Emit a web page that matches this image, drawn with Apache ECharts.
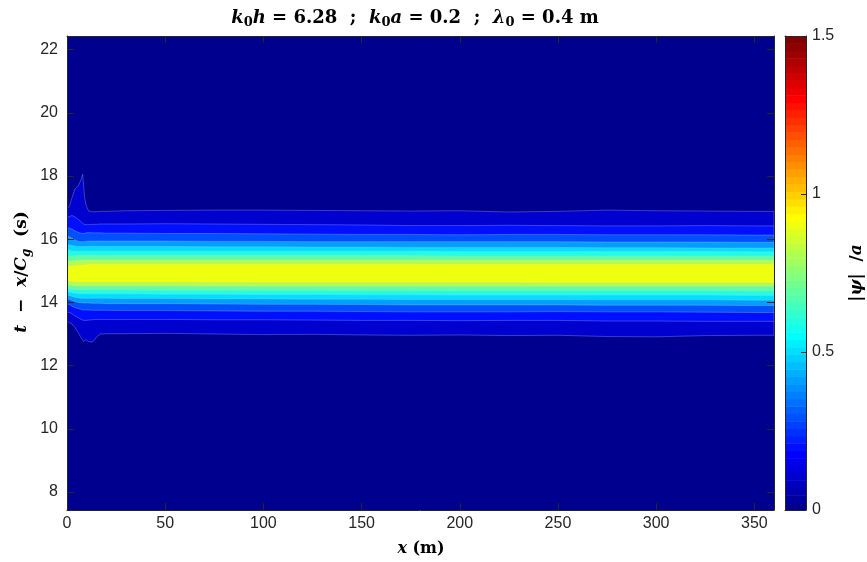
<!DOCTYPE html>
<html><head><meta charset="utf-8">
<script src="https://cdn.jsdelivr.net/npm/echarts@6/dist/echarts.min.js"></script>
<style>html,body{margin:0;padding:0;background:#fff}#c{width:867px;height:562px}</style>
</head><body><div id="c"></div>
<script>
// x stations (m) at which contour boundaries were read
const xStations = [0, 1.2, 2.5, 4.2, 5.9, 7.0, 8.0, 8.5, 9.0, 9.7, 11, 13, 15, 17, 20, 30, 50, 75, 100, 125, 150, 175, 200, 225, 250, 275, 300, 325, 350, 360];
// contour levels of |psi|/a
const levels = [0.1, 0.2, 0.3, 0.4, 0.5, 0.6, 0.7, 0.8, 0.9];
// upper / lower boundaries (t - x/Cg, s) of each level
const upper01 = [16.98,17.03,17.30,17.61,17.69,17.87,18.05,17.65,17.30,17.08,16.89,16.87,16.87,16.88,16.88,16.90,16.91,16.92,16.92,16.91,16.90,16.89,16.90,16.86,16.88,16.92,16.90,16.89,16.88,16.88];
const lower01 = [13.40,13.36,13.32,13.20,13.02,12.90,12.80,12.76,12.80,12.82,12.76,12.74,12.90,13.00,13.01,13.01,13.02,13.00,12.98,12.99,12.97,12.96,12.97,12.95,12.96,12.92,12.91,12.95,12.96,12.96];
const upper02 = [16.70,16.71,16.75,16.70,16.62,16.56,16.50,16.48,16.47,16.46,16.46,16.47,16.47,16.48,16.48,16.48,16.49,16.48,16.47,16.46,16.45,16.43,16.43,16.44,16.43,16.42,16.42,16.43,16.42,16.42];
const lower02 = [13.70,13.68,13.64,13.57,13.51,13.47,13.44,13.43,13.43,13.43,13.44,13.45,13.46,13.46,13.46,13.46,13.46,13.45,13.45,13.44,13.43,13.43,13.42,13.43,13.43,13.41,13.41,13.40,13.40,13.40];
const upper03 = [16.37,16.35,16.32,16.26,16.21,16.19,16.18,16.18,16.19,16.20,16.21,16.20,16.20,16.20,16.19,16.19,16.18,16.18,16.17,16.16,16.15,16.15,16.14,16.15,16.15,16.14,16.14,16.14,16.13,16.13];
const lower03 = [13.95,13.93,13.88,13.83,13.80,13.78,13.76,13.76,13.76,13.76,13.76,13.75,13.75,13.75,13.75,13.74,13.74,13.73,13.72,13.72,13.71,13.70,13.70,13.70,13.71,13.70,13.70,13.69,13.68,13.68];
const upper04 = [16.10,16.08,16.03,15.97,15.93,15.92,15.92,15.92,15.93,15.93,15.94,15.94,15.94,15.94,15.94,15.94,15.94,15.93,15.93,15.92,15.92,15.92,15.92,15.92,15.92,15.91,15.91,15.91,15.90,15.90];
const lower04 = [14.12,14.10,14.06,14.02,14.00,13.99,13.98,13.98,13.98,13.98,13.98,13.97,13.97,13.97,13.96,13.96,13.96,13.95,13.94,13.94,13.93,13.92,13.92,13.92,13.92,13.91,13.91,13.91,13.90,13.90];
const upper05 = [15.84,15.82,15.80,15.78,15.77,15.77,15.77,15.77,15.77,15.77,15.77,15.77,15.77,15.77,15.77,15.77,15.77,15.76,15.76,15.75,15.75,15.74,15.74,15.74,15.74,15.73,15.73,15.72,15.72,15.72];
const lower05 = [14.24,14.22,14.19,14.16,14.14,14.13,14.13,14.13,14.13,14.13,14.13,14.13,14.13,14.13,14.13,14.12,14.12,14.11,14.11,14.10,14.10,14.09,14.09,14.09,14.09,14.08,14.08,14.08,14.07,14.07];
const upper06 = [15.66,15.65,15.63,15.62,15.62,15.62,15.62,15.62,15.62,15.62,15.62,15.62,15.62,15.62,15.62,15.62,15.62,15.62,15.62,15.62,15.62,15.62,15.61,15.61,15.61,15.61,15.61,15.61,15.60,15.60];
const lower06 = [14.34,14.33,14.31,14.29,14.28,14.28,14.27,14.27,14.27,14.27,14.27,14.27,14.27,14.27,14.27,14.27,14.26,14.26,14.25,14.25,14.24,14.24,14.23,14.23,14.23,14.23,14.23,14.23,14.22,14.22];
const upper07 = [15.47,15.47,15.47,15.48,15.48,15.48,15.48,15.48,15.48,15.48,15.48,15.48,15.48,15.48,15.48,15.48,15.48,15.48,15.48,15.48,15.48,15.48,15.47,15.47,15.47,15.47,15.47,15.47,15.47,15.47];
const lower07 = [14.44,14.43,14.41,14.40,14.39,14.39,14.39,14.39,14.39,14.39,14.39,14.39,14.39,14.39,14.39,14.39,14.38,14.38,14.38,14.38,14.37,14.37,14.37,14.37,14.37,14.37,14.37,14.37,14.36,14.36];
const upper08 = [15.30,15.31,15.32,15.33,15.34,15.34,15.35,15.35,15.35,15.35,15.35,15.35,15.35,15.35,15.35,15.35,15.35,15.35,15.35,15.35,15.35,15.35,15.35,15.35,15.35,15.35,15.35,15.35,15.35,15.35];
const lower08 = [14.55,14.54,14.53,14.52,14.51,14.51,14.51,14.51,14.51,14.51,14.51,14.51,14.51,14.51,14.51,14.51,14.51,14.50,14.50,14.50,14.50,14.50,14.50,14.50,14.50,14.50,14.50,14.50,14.50,14.50];
const upper09 = [15.15,15.16,15.17,15.18,15.19,15.20,15.21,15.21,15.21,15.21,15.22,15.22,15.22,15.22,15.22,15.22,15.22,15.22,15.22,15.22,15.22,15.22,15.22,15.22,15.22,15.22,15.22,15.22,15.22,15.22];
const lower09 = [14.67,14.66,14.65,14.64,14.64,14.63,14.63,14.63,14.63,14.63,14.63,14.63,14.63,14.63,14.63,14.63,14.63,14.63,14.62,14.62,14.62,14.62,14.62,14.62,14.61,14.61,14.61,14.61,14.61,14.61];
// tick labels
const xTicks = [0, 50, 100, 150, 200, 250, 300, 350];
const yTicks = [8, 10, 12, 14, 16, 18, 20, 22];
const cbTicks = [0, 0.5, 1, 1.5];

const upperBounds = [upper01, upper02, upper03, upper04, upper05, upper06, upper07, upper08, upper09];
const lowerBounds = [lower01, lower02, lower03, lower04, lower05, lower06, lower07, lower08, lower09];

const CMIN = 0, CMAX = 1.5, NC = 64;
function u(j) { if (j < 1 || j > 47) return 0; if (j <= 16) return j / 16; if (j <= 31) return 1; return (48 - j) / 16; }
function jetRow(k) { // 1-based row of MATLAB jet(64)
  const c = [u(k - 24), u(k - 8), u(k + 8)].map(v => Math.round(v * 255));
  return 'rgb(' + c.join(',') + ')';
}
function colorOf(v) {
  let k = Math.floor((v - CMIN) / (CMAX - CMIN) * NC) + 1;
  k = Math.max(1, Math.min(NC, k));
  return jetRow(k);
}
const cbIdx = Array.from({length: NC}, (_, i) => [i]);

const ink = '#262626';
const tickFont = {fontFamily: 'Liberation Sans, Arial, Helvetica, sans-serif', fontSize: 16, color: ink};
const serif = '"DejaVu Serif", serif';
function richSet(fs) {
  const sub = Math.round(fs * 0.7);
  const pad = Math.round(fs * 0.5);
  return {
    i: {fontFamily: serif, fontStyle: 'italic', fontWeight: 'bold', fontSize: fs, color: '#000'},
    b: {fontFamily: serif, fontWeight: 'bold', fontSize: fs, color: '#000'},
    s: {fontFamily: serif, fontWeight: 'bold', fontSize: sub, color: '#000', padding: [pad, 0, 0, 0]},
    si: {fontFamily: serif, fontStyle: 'italic', fontWeight: 'bold', fontSize: sub, color: '#000', padding: [pad, 0, 0, 0]}
  };
}

const chart = echarts.init(document.getElementById('c'), null, {renderer: 'canvas'});
function axisCommon(extra) {
  return Object.assign({
    type: 'value', z: 10,
    axisLine: {show: true, onZero: false, lineStyle: {color: ink, width: 1}},
    splitLine: {show: false},
  }, extra);
}
chart.setOption({
  animation: false,
  backgroundColor: '#fff',
  grid: [
    {left: 67, right: 93, top: 36, bottom: 52, show: true, backgroundColor: colorOf(0), borderWidth: 0},
    {left: 785, width: 21, top: 36, bottom: 52, show: false}
  ],
  xAxis: [
    axisCommon({gridIndex: 0, position: 'bottom', min: 0, max: 360,
      axisTick: {show: true, inside: true, length: 7, customValues: xTicks, lineStyle: {color: ink}},
      axisLabel: Object.assign({show: true, margin: 6, customValues: xTicks}, tickFont)}),
    axisCommon({gridIndex: 0, position: 'top', min: 0, max: 360,
      axisTick: {show: true, inside: true, length: 7, customValues: xTicks, lineStyle: {color: ink}},
      axisLabel: {show: false}}),
    axisCommon({gridIndex: 1, position: 'bottom', min: 0, max: 1, axisTick: {show: false}, axisLabel: {show: false}}),
    axisCommon({gridIndex: 1, position: 'top', min: 0, max: 1, axisTick: {show: false}, axisLabel: {show: false}})
  ],
  yAxis: [
    axisCommon({gridIndex: 0, position: 'left', min: 7.43, max: 22.43,
      axisTick: {show: true, inside: true, length: 7, customValues: yTicks, lineStyle: {color: ink}},
      axisLabel: Object.assign({show: true, margin: 9, customValues: yTicks}, tickFont)}),
    axisCommon({gridIndex: 0, position: 'right', min: 7.43, max: 22.43,
      axisTick: {show: true, inside: true, length: 7, customValues: yTicks, lineStyle: {color: ink}},
      axisLabel: {show: false}}),
    axisCommon({gridIndex: 1, position: 'right', min: 0, max: 1.5,
      axisTick: {show: true, inside: true, length: 5, customValues: cbTicks, lineStyle: {color: ink}},
      axisLabel: Object.assign({show: true, margin: 6, customValues: cbTicks}, tickFont)}),
    axisCommon({gridIndex: 1, position: 'left', min: 0, max: 1.5, axisTick: {show: false}, axisLabel: {show: false}})
  ],
  series: [
    {
      type: 'custom', xAxisIndex: 0, yAxisIndex: 0, clip: true, z: 2,
      data: levels.map((v, i) => [i]),
      encode: {x: 0},
      renderItem: function (params, api) {
        const i = api.value(0);
        const U = upperBounds[i], L = lowerBounds[i];
        const pts = [];
        for (let j = 0; j < xStations.length; j++) pts.push(api.coord([xStations[j], U[j]]));
        for (let j = xStations.length - 1; j >= 0; j--) pts.push(api.coord([xStations[j], L[j]]));
        return {type: 'polygon', shape: {points: pts},
          style: {fill: colorOf(levels[i]), stroke: 'rgba(185,195,255,0.45)', lineWidth: 0.7}};
      }
    },
    {
      type: 'custom', xAxisIndex: 2, yAxisIndex: 2, clip: true, z: 2,
      data: cbIdx,
      encode: {y: 0},
      renderItem: function (params, api) {
        const i = api.value(0);
        const step = (CMAX - CMIN) / NC;
        const p0 = api.coord([0, CMIN + i * step]);
        const p1 = api.coord([1, CMIN + (i + 1) * step]);
        return {type: 'rect', shape: {x: p0[0], y: p1[1], width: p1[0] - p0[0], height: p0[1] - p1[1] + 0.5},
          style: {fill: jetRow(i + 1)}};
      }
    }
  ],
  graphic: [
    {type: 'text', x: 415, y: 18, style: {
      text: '{i|k}{s|0}{i|h}{b| = 6.28  ;  }{i|k}{s|0}{i|a}{b| = 0.2  ;  }{i|λ}{s|0}{b| = 0.4 m}',
      rich: richSet(18), align: 'center', verticalAlign: 'middle'}},
    {type: 'text', x: 421, y: 549, style: {
      text: '{i|x}{b| (m)}', rich: richSet(16), align: 'center', verticalAlign: 'middle'}},
    {type: 'text', x: 22, y: 272, rotation: Math.PI / 2, style: {
      text: '{i|t}{b|  −  }{i|x}{b|/}{i|C}{si|g}{b|  (s)}', rich: richSet(17), align: 'center', verticalAlign: 'middle'}},
    {type: 'text', x: 857, y: 273, rotation: Math.PI / 2, style: {
      text: '{b||}{i|ψ}{b||  /}{i|a}', rich: richSet(17), align: 'center', verticalAlign: 'middle'}}
  ]
});
</script>
</body></html>
